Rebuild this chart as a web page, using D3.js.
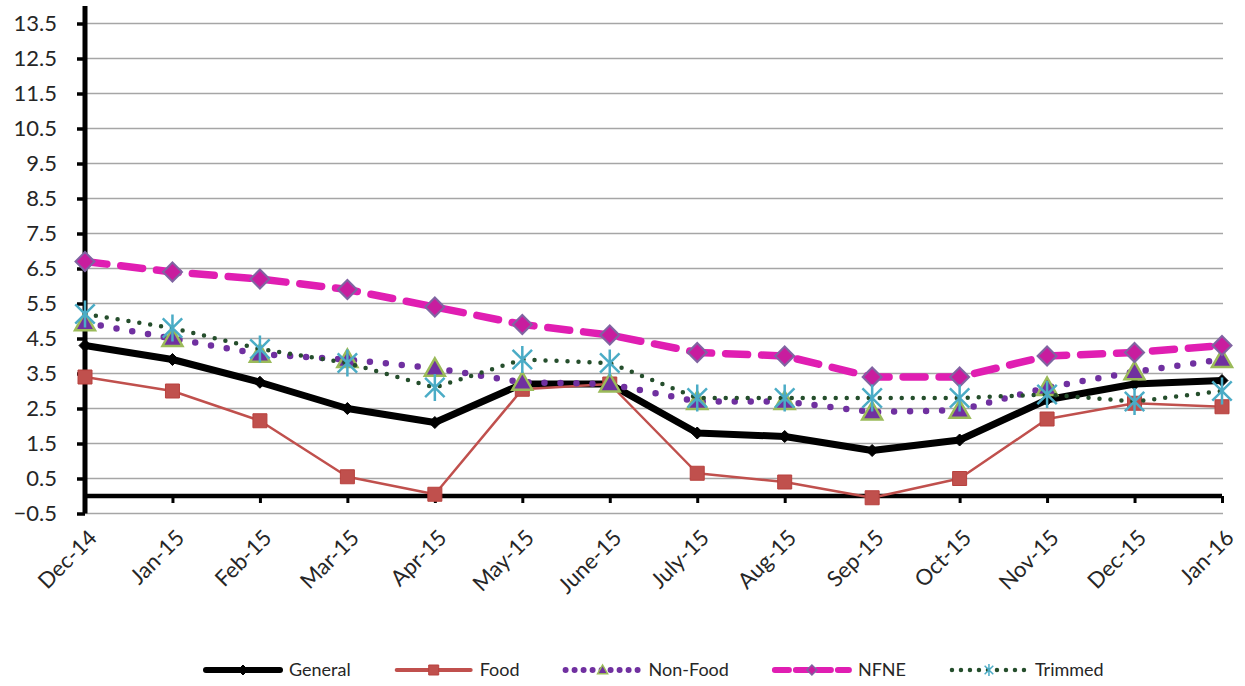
<!DOCTYPE html>
<html>
<head>
<meta charset="utf-8">
<script src="https://cdn.jsdelivr.net/npm/d3@7"></script>
<style>
  body { margin: 0; background: #fff; }
  text { font-family: Lato, "Open Sans", sans-serif; fill: #262626; }
</style>
</head>
<body>
<script>
// categories and series
var months = ["Dec-14", "Jan-15", "Feb-15", "Mar-15", "Apr-15", "May-15", "June-15",
              "July-15", "Aug-15", "Sep-15", "Oct-15", "Nov-15", "Dec-15", "Jan-16"];
var general  = [4.3, 3.9, 3.25, 2.5, 2.1, 3.2, 3.2, 1.8, 1.7, 1.3, 1.6, 2.75, 3.2, 3.3];
var food     = [3.4, 3.0, 2.15, 0.55, 0.05, 3.05, 3.2, 0.65, 0.4, -0.05, 0.5, 2.2, 2.65, 2.55];
var nonFood  = [4.95, 4.5, 4.05, 3.9, 3.65, 3.25, 3.2, 2.7, 2.7, 2.4, 2.45, 3.1, 3.55, 3.9];
var nfne     = [6.7, 6.4, 6.2, 5.9, 5.4, 4.9, 4.6, 4.1, 4.0, 3.4, 3.4, 4.0, 4.1, 4.3];
var trimmed  = [5.2, 4.8, 4.2, 3.8, 3.1, 3.9, 3.8, 2.8, 2.8, 2.8, 2.8, 2.9, 2.7, 3.0];
var yTicks   = [-0.5, 0.5, 1.5, 2.5, 3.5, 4.5, 5.5, 6.5, 7.5, 8.5, 9.5, 10.5, 11.5, 12.5, 13.5];

var width = 1245, height = 686;
var margin = {top: 6, right: 23, bottom: 172.5, left: 85};

var svg = d3.select("body").append("svg")
    .attr("width", width)
    .attr("height", height);

// scales
var x = d3.scalePoint().domain(months).range([margin.left, width - margin.right]);
var y = d3.scaleLinear().domain([-0.5, 14]).range([height - margin.bottom, margin.top]);

// gridlines
svg.append("g")
  .selectAll("line")
  .data(yTicks)
  .enter().append("line")
    .attr("x1", margin.left)
    .attr("x2", width - margin.right + 1)
    .attr("y1", function(d) { return y(d); })
    .attr("y2", function(d) { return y(d); })
    .attr("stroke", "#a6a6a6")
    .attr("stroke-width", 1.5);

// x axis on the zero line
var xAxis = svg.append("g")
    .attr("transform", "translate(0," + y(0) + ")")
    .call(d3.axisBottom(x).tickSize(7).tickFormat(""));
xAxis.select(".domain").attr("stroke", "#000").attr("stroke-width", 4.5)
    .attr("d", "M" + margin.left + ",0H" + (width - margin.right));
xAxis.selectAll(".tick line").attr("stroke", "#000").attr("stroke-width", 3);

// x labels, rotated
svg.append("g")
  .selectAll("text")
  .data(months)
  .enter().append("text")
    .attr("transform", function(d) { return "translate(" + (x(d) + 2) + ",528) rotate(-45)"; })
    .attr("text-anchor", "end")
    .attr("dy", "0.72em")
    .style("font-size", "22px")
    .text(function(d) { return d; });

// y axis
var yAxis = svg.append("g")
    .attr("transform", "translate(" + margin.left + ",0)")
    .call(d3.axisLeft(y).tickValues(yTicks).tickSize(8).tickPadding(20)
      .tickFormat(d3.format(".1f")));
yAxis.select(".domain").attr("stroke", "#000").attr("stroke-width", 5)
    .attr("d", "M0," + y(14) + "V" + y(-0.5));
yAxis.selectAll(".tick line").attr("stroke", "#000").attr("stroke-width", 3.5);
yAxis.selectAll(".tick text")
    .style("font-size", "22px")
    .style("font-family", "Lato, sans-serif")
    .attr("fill", "#262626");

// marker shapes
function diamond(s) { return "M0," + (-s) + "L" + s + ",0L0," + s + "L" + (-s) + ",0Z"; }
function square(s) { return "M" + (-s) + "," + (-s) + "h" + 2 * s + "v" + 2 * s + "h" + (-2 * s) + "Z"; }
function triangle(s) { return "M0," + (-s) + "L" + s + "," + (s * 0.75) + "L" + (-s) + "," + (s * 0.75) + "Z"; }
function star(s) {
  var d = s * 0.72;
  return "M0," + (-s) + "V" + s + "M" + (-d) + "," + (-d) + "L" + d + "," + d +
         "M" + d + "," + (-d) + "L" + (-d) + "," + d;
}

var series = [
  {name: "General", values: general, color: "#000", width: 7, dash: null,
   marker: diamond, size: 6, fill: "#000", stroke: "#000", sw: 1},
  {name: "Food", values: food, color: "#c0504d", width: 2.5, dash: null,
   marker: square, size: 7, fill: "#c0504d", stroke: "#b8413e", sw: 1},
  {name: "Non-Food", values: nonFood, color: "#7030a0", width: 6.5, dash: "0 16",
   marker: triangle, size: 10, fill: "#7030a0", stroke: "#9bbb59", sw: 2.5},
  {name: "NFNE", values: nfne, color: "#e01eb2", width: 7.5, dash: "22 14",
   marker: diamond, size: 9.5, fill: "#c81d9e", stroke: "#8064a2", sw: 2},
  {name: "Trimmed", values: trimmed, color: "#254e2c", width: 4.5, dash: "0 11",
   marker: star, size: 13.5, fill: "none", stroke: "#4bacc6", sw: 2.5}
];

var line = d3.line()
    .x(function(d, i) { return x(months[i]); })
    .y(function(d) { return y(d); });

// each series: line then markers
series.forEach(function(s) {
  svg.append("path")
    .datum(s.values)
    .attr("fill", "none")
    .attr("stroke", s.color)
    .attr("stroke-width", s.width)
    .attr("stroke-linecap", s.dash ? "round" : "butt")
    .attr("stroke-linejoin", "round")
    .attr("stroke-dasharray", s.dash)
    .attr("d", line);

  svg.append("g")
    .selectAll("path")
    .data(s.values)
    .enter().append("path")
      .attr("transform", function(d, i) { return "translate(" + x(months[i]) + "," + y(d) + ")"; })
      .attr("d", s.marker(s.size))
      .attr("fill", s.fill)
      .attr("stroke", s.stroke)
      .attr("stroke-width", s.sw);
});

// legend
var legend = svg.append("g").attr("transform", "translate(0,670)");
var lx = 206;
series.forEach(function(s) {
  var g = legend.append("g").attr("transform", "translate(" + lx + ",0)");
  g.append("line")
    .attr("x1", 0).attr("x2", 74)
    .attr("stroke", s.color)
    .attr("stroke-width", s.name == "Food" ? 4 : Math.min(s.width, 6))
    .attr("stroke-linecap", "round")
    .attr("stroke-dasharray", s.dash ? (s.name == "NFNE" ? "14 7" : "0 9") : null);
  g.append("path")
    .attr("transform", "translate(37,0)")
    .attr("d", s.marker(s.name == "Trimmed" ? 6 : 5))
    .attr("fill", s.fill)
    .attr("stroke", s.stroke)
    .attr("stroke-width", s.sw > 1 ? 1.5 : 1);
  var t = g.append("text")
    .attr("x", 83)
    .attr("dy", "0.35em")
    .style("font-size", "18px")
    .text(s.name);
  lx += 83 + t.node().getComputedTextLength() + 46;
});
</script>
</body>
</html>
